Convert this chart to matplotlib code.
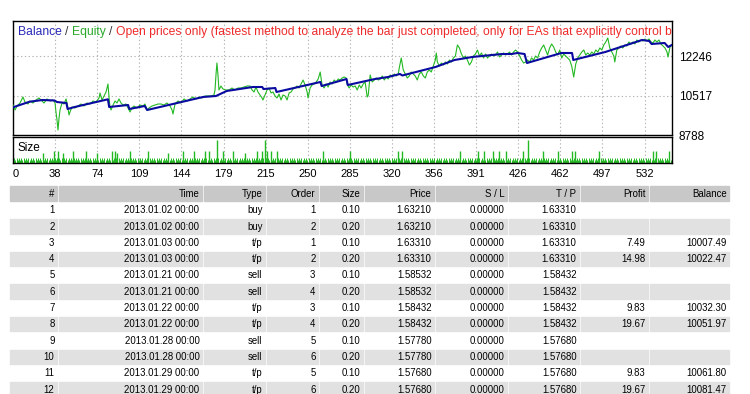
import numpy as np
import matplotlib
matplotlib.use('Agg')
import matplotlib.pyplot as plt
from matplotlib.patches import Rectangle

plt.rcParams['font.family'] = ['Liberation Sans', 'DejaVu Sans']

# balance curve (trade number, account balance)
bal_x = [0, 14, 25, 35, 37, 45, 46, 52, 80, 81, 97, 98, 111, 113, 160, 171, 180, 202, 210, 211,
         221, 222, 259, 260, 281, 282, 305, 316, 326, 328, 356, 372, 387, 412, 420, 425, 431, 433,
         462, 471, 472, 499, 530, 536, 538, 549, 552, 555]
bal_y = [10003, 10249, 10324, 10302, 10236, 10192, 9929, 10017, 10355, 10017, 10104, 9929, 10060,
         9885, 10455, 10499, 10719, 10894, 10894, 10806, 10850, 10675, 11114, 10938, 11245, 10982,
         11245, 11333, 11465, 11399, 11772, 12079, 12211, 12342, 12342, 12386, 12342, 11947, 12386,
         12386, 12079, 12430, 12957, 12913, 12781, 12825, 12650, 12738]

# equity curve
eq_x = [0, 1.7, 3.4, 5.9, 8.4, 10.1, 12.6, 14.3, 16.9, 19.4, 21.9, 24.4, 26.1, 28.6, 31.2, 33.7,
        35.4, 36.2, 37.1, 37.9, 38.8, 39.6, 41.3, 43.0, 44.7, 45.5, 46.3, 47.2, 48.0, 49.7, 52.2,
        54.8, 57.3, 59.8, 62.3, 64.9, 67.4, 69.9, 72.5, 73.3, 75.0, 76.7, 78.4, 80.0, 80.9, 81.7,
        82.6, 84.3, 86.0, 87.6, 89.3, 91.0, 92.7, 95.2, 96.9, 98.6, 100.2, 101.9, 104.4, 107.0,
        109.5, 111.2, 112.9, 114.6, 117.1, 119.6, 122.2, 124.7, 127.2, 129.7, 132.3, 134.0, 134.8,
        136.5, 139.0, 141.5, 144.1, 146.6, 149.1, 151.6, 154.2, 156.7, 159.2, 161.7, 164.3, 166.8,
        169.3, 170.2, 171.0, 171.8, 172.7, 173.5, 175.2, 176.9, 179.4, 182.0, 184.5, 187.0, 189.5,
        192.1, 194.6, 197.1, 199.7, 201.4, 203.1, 204.7, 206.4, 208.1, 209.8, 210.6, 212.3, 214.0,
        215.7, 217.4, 219.1, 220.8, 222.4, 224.1, 225.8, 227.5, 229.2, 230.9, 232.6, 234.3, 235.9,
        237.6, 239.3, 241.0, 242.7, 244.4, 246.1, 247.8, 248.6, 250.3, 252.0, 253.7, 255.4, 257.1,
        258.8, 260.4, 262.1, 263.8, 265.5, 267.2, 268.9, 270.6, 272.3, 274.0, 275.6, 277.3, 279.0,
        280.7, 281.5, 283.2, 284.9, 286.6, 288.3, 290.0, 291.7, 293.3, 295.0, 296.7, 298.4, 299.3,
        300.9, 302.6, 304.3, 306.0, 307.7, 309.4, 311.1, 312.8, 314.5, 316.1, 317.8, 319.5, 321.2,
        322.9, 324.6, 325.4, 327.1, 328.8, 330.5, 332.2, 333.8, 335.5, 337.2, 338.9, 340.6, 342.3,
        344.0, 345.7, 347.4, 349.0, 350.7, 352.4, 354.1, 355.8, 356.6, 357.5, 359.2, 360.9, 362.6,
        364.3, 366.0, 367.6, 369.3, 371.0, 372.7, 374.4, 376.1, 377.8, 379.5, 381.2, 382.8, 384.5,
        386.2, 387.9, 389.6, 391.3, 393.0, 394.7, 396.4, 398.1, 399.7, 401.4, 403.1, 404.8, 406.5,
        408.2, 409.9, 411.6, 413.3, 414.9, 416.6, 418.3, 420.0, 421.7, 423.4, 425.1, 426.8, 428.5,
        430.2, 431.9, 433.5, 435.2, 436.9, 438.6, 440.3, 442.0, 443.7, 445.4, 447.1, 448.7, 450.4,
        452.1, 453.8, 455.5, 457.2, 458.9, 460.6, 462.3, 464.0, 465.6, 467.3, 469.0, 470.7, 472.4,
        474.1, 475.8, 477.5, 479.2, 480.9, 482.5, 484.2, 485.9, 487.6, 489.3, 491.0, 492.7, 494.4,
        496.1, 497.7, 499.4, 501.1, 502.8, 504.5, 506.2, 507.0, 508.7, 510.4, 512.1, 513.8, 515.5,
        517.2, 518.9, 520.6, 522.3, 523.9, 525.6, 527.3, 529.0, 530.7, 532.4, 534.1, 535.8, 537.5,
        539.2, 540.8, 542.5, 544.2, 545.9, 547.6, 549.3, 551.0, 551.8, 552.7, 553.5, 555.2]
eq_y = [10104, 9885, 10060, 10192, 10455, 10236, 10148, 10280, 10192, 10324, 10412, 10280, 10192,
        10368, 10280, 10324, 10192, 9797, 9446, 9007, 9534, 9885, 10192, 10148, 10368, 10192, 9973,
        9666, 9797, 10017, 9973, 10060, 10148, 10060, 10192, 10148, 10280, 10236, 10412, 10631,
        10324, 10499, 10675, 11026, 10455, 10017, 9885, 10104, 10280, 10192, 10368, 10192, 10104,
        10148, 9973, 9797, 9973, 10060, 9973, 10104, 10060, 10148, 9885, 9973, 10060, 10104, 10148,
        10148, 10104, 10192, 10060, 9885, 9709, 10148, 10280, 10192, 10368, 10280, 10368, 10455,
        10368, 10455, 10412, 10499, 10499, 10499, 10543, 10763, 11421, 11947, 11421, 10763, 10938,
        10806, 10763, 10763, 10850, 10763, 10850, 10850, 10894, 10938, 10938, 10763, 10675, 10894,
        10675, 10543, 10412, 10324, 10543, 10763, 10850, 10631, 10675, 10499, 10412, 10587, 10324,
        10543, 10499, 10324, 10631, 10675, 10806, 10850, 10938, 10850, 11026, 11201, 10982, 10675,
        10412, 10850, 10982, 11026, 11114, 11245, 11552, 10982, 10850, 11026, 10894, 11114, 11026,
        11201, 11114, 11245, 11201, 11289, 11333, 11289, 11026, 10850, 10982, 10894, 10938, 10763,
        10982, 10850, 11026, 11114, 10455, 10543, 11421, 11114, 11201, 11289, 11201, 11245, 11377,
        11201, 11333, 11245, 11421, 11333, 11465, 11377, 11465, 11728, 12167, 11640, 11465, 11289,
        11377, 11552, 11465, 11377, 11201, 11465, 11552, 11377, 11289, 11552, 11640, 11552, 11816,
        12079, 12386, 11991, 11816, 11947, 11860, 11991, 11903, 12079, 11991, 12167, 12255, 12737,
        12606, 12342, 12167, 12255, 12079, 11860, 11991, 12255, 12342, 12518, 12255, 12386, 12167,
        12342, 12167, 12255, 12342, 12255, 12298, 12430, 12211, 12298, 12386, 12298, 12342, 12430,
        12298, 12430, 12518, 12430, 12255, 12079, 11947, 11991, 12079, 11991, 12167, 12079, 12255,
        12167, 12430, 12606, 12737, 12518, 12298, 12606, 12781, 12649, 12430, 12298, 12518, 12167,
        12342, 12255, 12167, 12079, 11816, 11333, 11903, 12167, 12298, 12430, 12518, 12298, 12386,
        12298, 12430, 12342, 12518, 12430, 12606, 12518, 12737, 12869, 13044, 12606, 12430, 12255,
        11991, 12518, 12606, 12693, 12606, 12737, 12693, 12869, 12781, 12869, 12781, 12957, 12869,
        12957, 12913, 13000, 12913, 13000, 12869, 12825, 12957, 12869, 12957, 12781, 12693, 12606,
        12430, 12211, 12430, 12649, 12737]

# lot sizes: regular pair of orders, and the enlarged ones
n_trades = 555
lot_pair = [0.10, 0.20]
big_x = [25.3, 34.5, 37.9, 42.1, 50.6, 61.5, 70.8, 83.4, 85.9, 87.6, 98.6, 113.7, 130.6, 143.2,
         152.5, 161.8, 165.1, 171.8, 176.9, 185.3, 195.4, 205.6, 209.8, 212.3, 214.0, 217.4, 222.4,
         261.2, 283.9, 324.4, 327.7, 376.6, 391.8, 396.8, 404.4, 409.5, 415.4, 429.7, 433.9, 446.5,
         459.2, 471.0, 473.5, 493.7, 539.2, 541.7, 552.7]
big_lot = [0.40, 0.50, 0.50, 0.40, 0.50, 0.50, 0.40, 0.50, 0.50, 0.40, 0.50, 0.50, 0.40, 0.50,
           0.50, 0.50, 0.50, 1.00, 0.50, 0.50, 0.40, 0.50, 0.50, 1.00, 0.50, 0.50, 0.50,
           0.50, 0.50, 0.50, 0.50, 0.50, 0.50, 0.50, 0.50, 0.50, 0.50, 0.50, 1.00, 0.50,
           0.50, 0.50, 0.50, 0.50, 0.50, 0.50, 0.50]

xtick_labels = ['0', '38', '74', '109', '144', '179', '215', '250', '285', '320', '356', '391',
                '426', '462', '497', '532']
ytick_vals = [8788, 10517, 12246]

# title pieces and their colours
title_parts = ['Balance', '/', 'Equity', '/',
               'Open prices only (fastest method to analyze the bar just completed, '
               'only for EAs that explicitly control bar opening)']
title_colors = ['#2a2ab8', '#333333', '#2aa82a', '#333333', '#ee2b2b']

# trade history table
col_names = ['#', 'Time', 'Type', 'Order', 'Size', 'Price', 'S / L', 'T / P', 'Profit', 'Balance']
col_left = [10, 59, 204, 267, 320, 365, 436, 509, 581, 650]
col_right = [57, 202, 265, 318, 363, 434, 507, 579, 648, 729]
nums = ['1', '2', '3', '4', '5', '6', '7', '8', '9', '10', '11', '12']
times = ['2013.01.02 00:00', '2013.01.02 00:00', '2013.01.03 00:00', '2013.01.03 00:00',
         '2013.01.21 00:00', '2013.01.21 00:00', '2013.01.22 00:00', '2013.01.22 00:00',
         '2013.01.28 00:00', '2013.01.28 00:00', '2013.01.29 00:00', '2013.01.29 00:00']
types = ['buy', 'buy', 't/p', 't/p', 'sell', 'sell', 't/p', 't/p', 'sell', 'sell', 't/p', 't/p']
orders = ['1', '2', '1', '2', '3', '4', '3', '4', '5', '6', '5', '6']
sizes = ['0.10', '0.20'] * 6
prices = ['1.63210', '1.63210', '1.63310', '1.63310', '1.58532', '1.58532', '1.58432', '1.58432',
          '1.57780', '1.57780', '1.57680', '1.57680']
stops = ['0.00000'] * 12
takes = ['1.63310', '1.63310', '1.63310', '1.63310', '1.58432', '1.58432', '1.58432', '1.58432',
         '1.57680', '1.57680', '1.57680', '1.57680']
profits = ['', '', '7.49', '14.98', '', '', '9.83', '19.67', '', '', '9.83', '19.67']
balances = ['', '', '10007.49', '10022.47', '', '', '10032.30', '10051.97', '', '', '10061.80',
            '10081.47']

fig = plt.figure(figsize=(7.5, 3.94), dpi=100)
W, H = 750.0, 394.0

# pixel-space axes for the table
tab = fig.add_axes([0, 0, 1, 1])
tab.set_xlim(0, W)
tab.set_ylim(H, 0)
tab.axis('off')

ax = fig.add_axes([13 / W, 1 - 135 / H, 659 / W, 114 / H])
axs = fig.add_axes([13 / W, 1 - 162.5 / H, 659 / W, 25.5 / H])

xmax = 555.2
xticks = np.arange(len(xtick_labels)) * 35.47
grid_kw = dict(color='#b4b4b4', lw=0.8, linestyle=(0, (1.2, 2.2)))

ax.plot(eq_x, eq_y, color='#22b822', lw=0.8, zorder=3)
ax.plot(bal_x, bal_y, color='#0a0aa0', lw=1.5, zorder=4)
ax.set_xlim(0, xmax)
ax.set_ylim(8788, 13790)
ax.set_xticks(xticks)
ax.set_xticklabels([])
ax.tick_params(axis='x', length=0)
ax.yaxis.tick_right()
ax.set_yticks(ytick_vals)
ax.set_yticklabels([str(v) for v in ytick_vals], fontsize=8.5)
ax.tick_params(axis='y', length=0, pad=5)
ax.grid(True, **grid_kw)
ax.set_axisbelow(True)

# sizes
base_lots = np.resize(lot_pair, n_trades + 1)
axs.vlines(np.arange(n_trades + 1), 0, base_lots, color='#22b822', lw=0.7)
axs.vlines(big_x, 0, big_lot, color='#22b822', lw=1.0)
axs.set_xlim(0, xmax)
axs.set_ylim(0, 1.133)
axs.set_yticks([])
axs.set_xticks(xticks)
axs.set_xticklabels(xtick_labels, fontsize=8)
axs.xaxis.get_ticklabels()[0].set_ha('left')
axs.tick_params(axis='x', length=0, pad=5)
axs.grid(True, axis='x', **grid_kw)
axs.set_axisbelow(True)
axs.text(18, 148, 'Size', transform=tab.transData, fontsize=8.5, va='center', ha='left')

for a in (ax, axs):
    for sp in a.spines.values():
        sp.set_color('black')
        sp.set_linewidth(1.0)

# title line, pieces placed one after another
renderer = fig.canvas.get_renderer()
title_fs = 8.7


def text_w(s):
    t = tab.text(0, 0, s, fontsize=title_fs)
    w = t.get_window_extent(renderer).width
    t.remove()
    return w


space_w = text_w('a a') - text_w('aa')
x = 18.0
for s, c in zip(title_parts, title_colors):
    t = ax.text(x, 32, s, transform=tab.transData, color=c, fontsize=title_fs, va='center',
                ha='left', clip_on=True)
    x += t.get_window_extent(renderer).width + space_w

# table
cols = [nums, times, types, orders, sizes, prices, stops, takes, profits, balances]
for j, name in enumerate(col_names):
    tab.add_patch(Rectangle((col_left[j], 186), col_right[j] - col_left[j], 14.5,
                            color='#c8c8c8', zorder=1))
    tab.text(col_right[j] - 2.5, 193.5, name, fontsize=6.9, ha='right', va='center', zorder=2)
for i in range(len(nums)):
    yc = 210 + 16.3 * i
    for j in range(len(col_names)):
        if i % 2 == 1:
            tab.add_patch(Rectangle((col_left[j], yc - 7.2), col_right[j] - col_left[j], 14.4,
                                    color='#e1e1e1', zorder=1))
        tab.text(col_right[j] - 2.5, yc + 0.3, cols[j][i], fontsize=6.9, ha='right', va='center',
                 zorder=2)

fig.savefig('out.png', dpi=100, facecolor='white')
